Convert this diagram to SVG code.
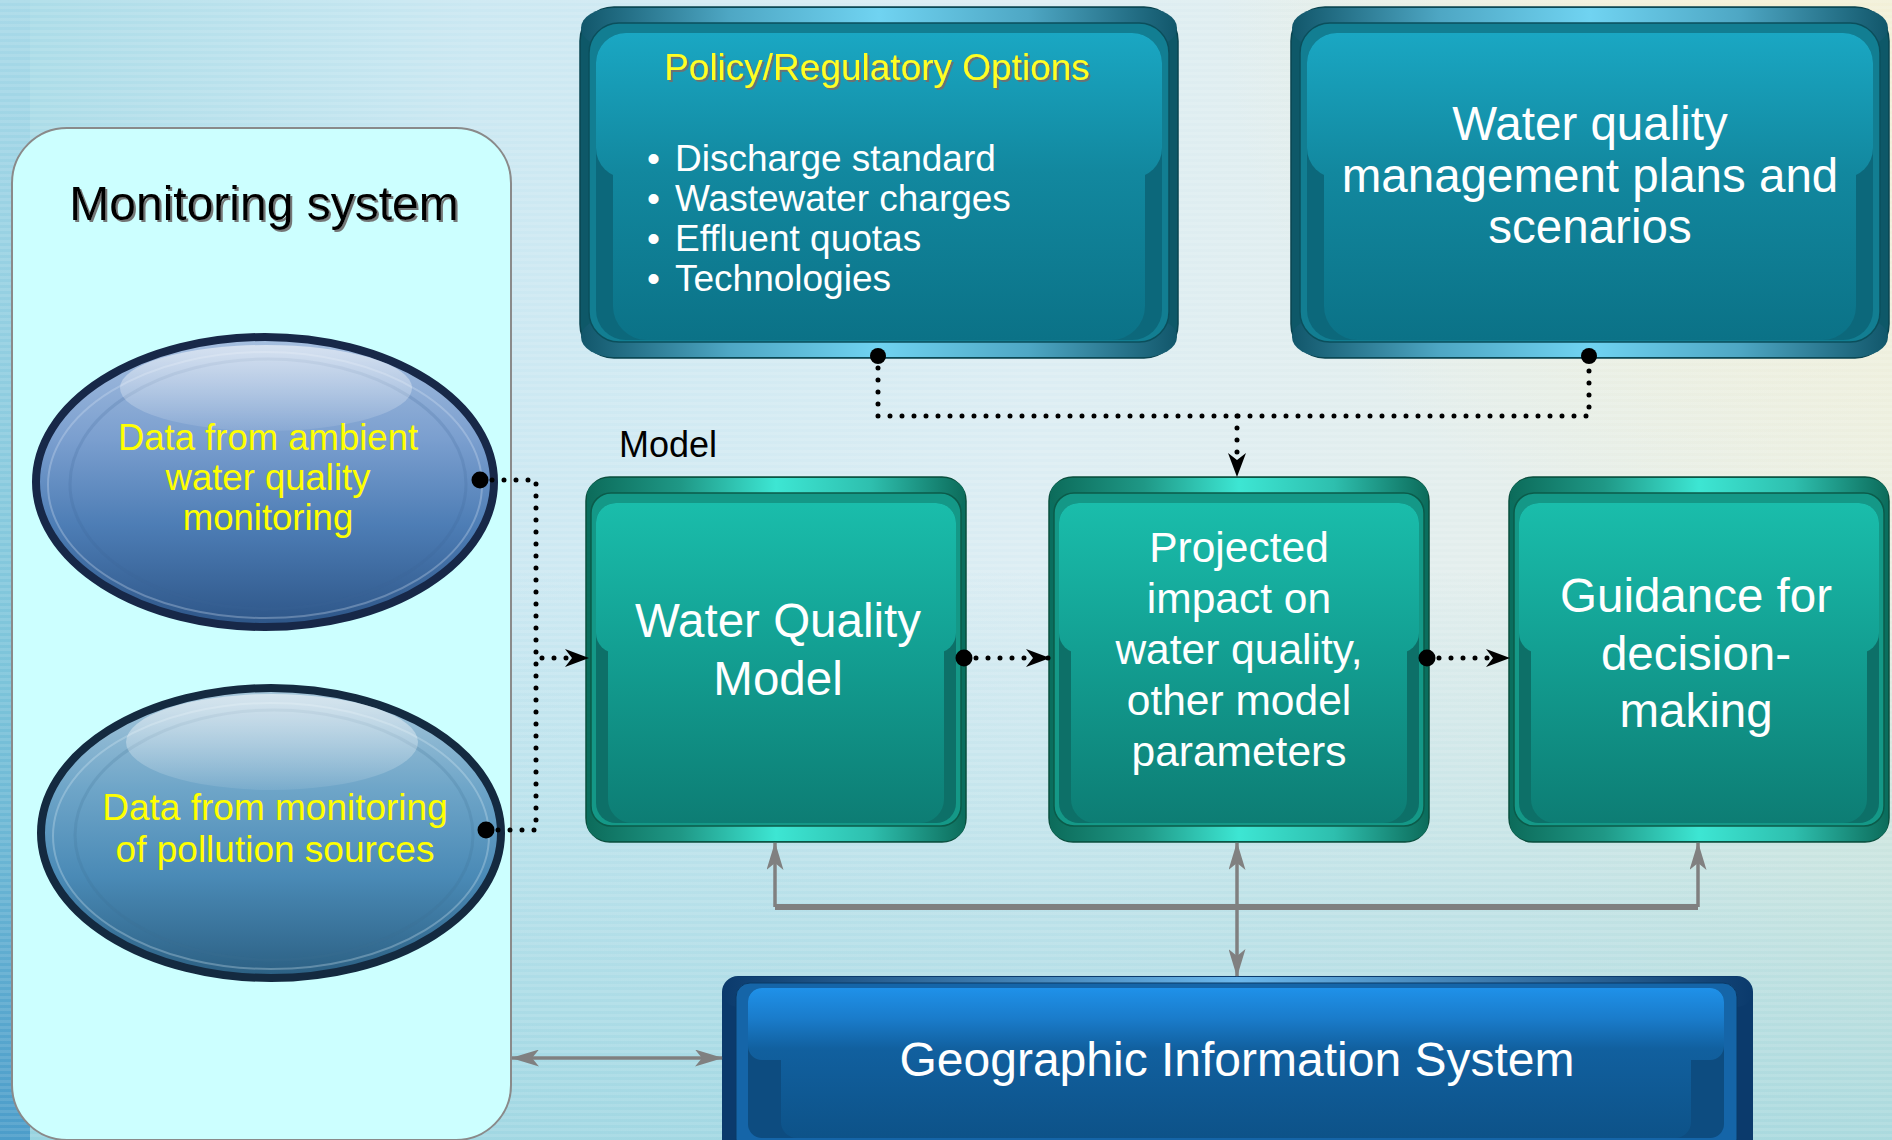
<svg xmlns="http://www.w3.org/2000/svg" xmlns:xlink="http://www.w3.org/1999/xlink" width="1892" height="1140" viewBox="0 0 1892 1140">
<style>
  text { font-family: "Liberation Sans", Arial, sans-serif; }
  .w { fill: #ffffff; text-anchor: middle; }
  .y { fill: #ffff00; text-anchor: middle; }
  .dot { fill: none; stroke: #000; stroke-width: 5; stroke-dasharray: 0 12; stroke-linecap: round; }
  .gray { fill: none; stroke: #808080; stroke-width: 3.5; }
</style>
<defs>
  <linearGradient id="bgH" x1="0" y1="0" x2="1" y2="0">
    <stop offset="0" stop-color="#a9dbe7"/>
    <stop offset="0.25" stop-color="#cbe8f2"/>
    <stop offset="0.55" stop-color="#dcedf3"/>
    <stop offset="0.8" stop-color="#e4eeec"/>
    <stop offset="1" stop-color="#ebefe2"/>
  </linearGradient>
  <linearGradient id="bgV" x1="0" y1="0" x2="0" y2="1">
    <stop offset="0.5" stop-color="#8fd3dc" stop-opacity="0"/>
    <stop offset="1" stop-color="#8fd0dc" stop-opacity="0.7"/>
  </linearGradient>
  <radialGradient id="bgTR" cx="1780" cy="0" r="560" gradientUnits="userSpaceOnUse">
    <stop offset="0" stop-color="#f4f0d6" stop-opacity="1"/>
    <stop offset="1" stop-color="#f4f0d6" stop-opacity="0"/>
  </radialGradient>
  <linearGradient id="bgL" x1="0" y1="0" x2="0" y2="1">
    <stop offset="0" stop-color="#a8d9e8"/>
    <stop offset="0.6" stop-color="#7cc4da"/>
    <stop offset="1" stop-color="#4c9dca"/>
  </linearGradient>
  <pattern id="stripes" width="10" height="6" patternUnits="userSpaceOnUse">
    <rect width="10" height="3" fill="#ffffff" opacity="0.1"/>
  </pattern>

  <filter id="shadow" x="-5%" y="-20%" width="110%" height="150%">
    <feDropShadow dx="2" dy="2" stdDeviation="0.6" flood-color="#707070" flood-opacity="0.95"/>
  </filter>

  <!-- teal box -->
  <linearGradient id="tealBand" x1="0" y1="0" x2="380" y2="0" gradientUnits="userSpaceOnUse">
    <stop offset="0" stop-color="#0c6b5a"/>
    <stop offset="0.25" stop-color="#1f9886"/>
    <stop offset="0.5" stop-color="#3de6d3"/>
    <stop offset="0.75" stop-color="#2ebfae"/>
    <stop offset="1" stop-color="#0c6b5a"/>
  </linearGradient>
  <linearGradient id="tealFace" x1="0" y1="26" x2="0" y2="346" gradientUnits="userSpaceOnUse">
    <stop offset="0" stop-color="#1abdab"/>
    <stop offset="0.45" stop-color="#13a093"/>
    <stop offset="1" stop-color="#0d7d74"/>
  </linearGradient>
  <g id="tealBox">
    <rect width="380" height="365" rx="24" fill="#0a6e5e" stroke="#0a4f3e" stroke-width="1.5"/>
    <rect x="1" y="1" width="378" height="34" rx="23" fill="url(#tealBand)"/>
    <rect x="1" y="330" width="378" height="34" rx="23" fill="url(#tealBand)"/>
    <rect x="5" y="16" width="370" height="333" rx="20" fill="#149887" stroke="#0b5b4a" stroke-width="1.5"/>
    <rect x="10" y="26" width="360" height="320" rx="20" fill="#0d7068"/>
    <rect x="10" y="26" width="360" height="150" rx="20" fill="url(#tealFace)"/>
    <rect x="22" y="100" width="336" height="246" rx="24" fill="url(#tealFace)"/>
  </g>

  <!-- blue-teal box -->
  <linearGradient id="blueBand" x1="0" y1="0" x2="598" y2="0" gradientUnits="userSpaceOnUse">
    <stop offset="0" stop-color="#11566a"/>
    <stop offset="0.25" stop-color="#4ea7c4"/>
    <stop offset="0.5" stop-color="#70d3f1"/>
    <stop offset="0.75" stop-color="#4ea7c4"/>
    <stop offset="1" stop-color="#11566a"/>
  </linearGradient>
  <linearGradient id="blueFace" x1="0" y1="26" x2="0" y2="333" gradientUnits="userSpaceOnUse">
    <stop offset="0" stop-color="#1aa7c3"/>
    <stop offset="0.45" stop-color="#12889f"/>
    <stop offset="1" stop-color="#0b7287"/>
  </linearGradient>
  <g id="blueBox">
    <rect width="598" height="351" rx="34" fill="#0e5868" stroke="#0a4450" stroke-width="1.5"/>
    <rect x="1" y="1" width="596" height="40" rx="33" fill="url(#blueBand)"/>
    <rect x="1" y="310" width="596" height="40" rx="33" fill="url(#blueBand)"/>
    <rect x="9" y="16" width="580" height="319" rx="30" fill="#127e92" stroke="#0b4f5c" stroke-width="1.5"/>
    <rect x="16" y="26" width="566" height="307" rx="30" fill="#0c687b"/>
    <rect x="16" y="26" width="566" height="145" rx="30" fill="url(#blueFace)"/>
    <rect x="33" y="100" width="532" height="233" rx="34" fill="url(#blueFace)"/>
  </g>

  <!-- GIS -->
  <linearGradient id="gisBand" x1="722" y1="0" x2="1753" y2="0" gradientUnits="userSpaceOnUse">
    <stop offset="0" stop-color="#0b3a6c"/>
    <stop offset="0.5" stop-color="#6cb8ec"/>
    <stop offset="1" stop-color="#0b3a6c"/>
  </linearGradient>
  <linearGradient id="gisFace" x1="0" y1="988" x2="0" y2="1140" gradientUnits="userSpaceOnUse">
    <stop offset="0" stop-color="#1f91e9"/>
    <stop offset="0.2" stop-color="#1a7ccb"/>
    <stop offset="0.4" stop-color="#11609f"/>
    <stop offset="1" stop-color="#0d5288"/>
  </linearGradient>

  <!-- ellipses -->
  <linearGradient id="ell1" x1="0" y1="0" x2="0" y2="1">
    <stop offset="0" stop-color="#a7c0e0"/>
    <stop offset="0.35" stop-color="#7b9fcf"/>
    <stop offset="0.65" stop-color="#4d7db5"/>
    <stop offset="1" stop-color="#2d5587"/>
  </linearGradient>
  <linearGradient id="ell2" x1="0" y1="0" x2="0" y2="1">
    <stop offset="0" stop-color="#a9c9dc"/>
    <stop offset="0.35" stop-color="#6ea5c8"/>
    <stop offset="0.65" stop-color="#4a8ab6"/>
    <stop offset="1" stop-color="#2b5f82"/>
  </linearGradient>
  <linearGradient id="hl" x1="0" y1="0" x2="0" y2="1">
    <stop offset="0" stop-color="#ffffff" stop-opacity="0.55"/>
    <stop offset="1" stop-color="#ffffff" stop-opacity="0.08"/>
  </linearGradient>

  <marker id="blk" viewBox="0 0 24 18" refX="23" refY="9" markerWidth="24" markerHeight="18" markerUnits="userSpaceOnUse" orient="auto">
    <path d="M0,0 L24,9 L0,18 L7,9 z" fill="#000"/>
  </marker>
  <marker id="gr" viewBox="0 0 28 17" refX="27" refY="8.5" markerWidth="28" markerHeight="17" markerUnits="userSpaceOnUse" orient="auto-start-reverse">
    <path d="M0,0 L28,8.5 L0,17 L7,8.5 z" fill="#808080"/>
  </marker>
</defs>

<!-- background -->
<rect width="1892" height="1140" fill="url(#bgH)"/>
<rect width="1892" height="1140" fill="url(#bgTR)"/>
<rect width="1892" height="1140" fill="url(#bgV)"/>
<rect width="30" height="1140" fill="url(#bgL)"/>
<rect width="1892" height="1140" fill="url(#stripes)"/>

<!-- Monitoring system -->
<g id="monitoring-system">
  <rect x="12" y="128" width="499" height="1012" rx="55" fill="#ccffff" stroke="#8a8a8a" stroke-width="2"/>
  <text x="264" y="220" font-size="48" fill="#000" text-anchor="middle" filter="url(#shadow)">Monitoring system</text>
</g>

<g id="ambient-monitoring">
  <ellipse cx="265" cy="482" rx="229" ry="145" fill="url(#ell1)" stroke="#172848" stroke-width="8"/>
  <ellipse cx="265" cy="485" rx="217" ry="133" fill="none" stroke="#d8e4f4" stroke-width="2" opacity="0.3"/>
  <ellipse cx="268" cy="484" rx="198" ry="125" fill="none" stroke="#3e6596" stroke-width="3" opacity="0.2"/>
  <ellipse cx="266" cy="388" rx="146" ry="43" fill="url(#hl)"/>
  <text class="y" font-size="36.5"><tspan x="268" y="450">Data from ambient</tspan><tspan x="268" y="490">water quality</tspan><tspan x="268" y="530">monitoring</tspan></text>
</g>

<g id="pollution-monitoring">
  <ellipse cx="271" cy="833" rx="230" ry="145" fill="url(#ell2)" stroke="#142a40" stroke-width="8"/>
  <ellipse cx="271" cy="836" rx="218" ry="133" fill="none" stroke="#d8eaf4" stroke-width="2" opacity="0.3"/>
  <ellipse cx="274" cy="835" rx="199" ry="125" fill="none" stroke="#3b6f92" stroke-width="3" opacity="0.2"/>
  <ellipse cx="272" cy="742" rx="146" ry="48" fill="url(#hl)"/>
  <text class="y" font-size="37"><tspan x="275" y="820">Data from monitoring</tspan><tspan x="275" y="862">of pollution sources</tspan></text>
</g>

<!-- Policy options -->
<g id="policy-options">
  <use xlink:href="#blueBox" x="580" y="7"/>
  <text x="877" y="80" font-size="37" fill="#ffff22" text-anchor="middle" filter="url(#shadow)">Policy/Regulatory Options</text>
  <g font-size="37" fill="#ffffff">
    <text><tspan x="647" y="171">•</tspan><tspan x="675" y="171">Discharge standard</tspan></text>
    <text><tspan x="647" y="211">•</tspan><tspan x="675" y="211">Wastewater charges</tspan></text>
    <text><tspan x="647" y="251">•</tspan><tspan x="675" y="251">Effluent quotas</tspan></text>
    <text><tspan x="647" y="291">•</tspan><tspan x="675" y="291">Technologies</tspan></text>
  </g>
</g>

<g id="management-plans">
  <use xlink:href="#blueBox" x="1291" y="7"/>
  <text class="w" font-size="47.5"><tspan x="1590" y="140">Water quality</tspan><tspan x="1590" y="192">management plans and</tspan><tspan x="1590" y="243">scenarios</tspan></text>
</g>

<g id="model-label">
  <text x="619" y="457" font-size="36" fill="#000">Model</text>
</g>

<g id="water-quality-model">
  <use xlink:href="#tealBox" x="586" y="477"/>
  <text class="w" font-size="47.5"><tspan x="778" y="637">Water Quality</tspan><tspan x="778" y="695">Model</tspan></text>
</g>

<g id="projected-impact">
  <use xlink:href="#tealBox" x="1049" y="477"/>
  <text class="w" font-size="42.5"><tspan x="1239" y="562">Projected</tspan><tspan x="1239" y="613">impact on</tspan><tspan x="1239" y="664">water quality,</tspan><tspan x="1239" y="715">other model</tspan><tspan x="1239" y="766">parameters</tspan></text>
</g>

<g id="guidance">
  <use xlink:href="#tealBox" x="1509" y="477"/>
  <text class="w" font-size="47.5"><tspan x="1696" y="612">Guidance for</tspan><tspan x="1696" y="670">decision-</tspan><tspan x="1696" y="727">making</tspan></text>
</g>

<g id="gis">
  <rect x="722" y="976" width="1031" height="180" rx="16" fill="#0b3a6c"/>
  <rect x="723" y="977" width="1029" height="30" rx="15" fill="url(#gisBand)"/>
  <rect x="736" y="983" width="1001" height="170" rx="14" fill="#1565a8" stroke="#0a3a66" stroke-width="1"/>
  <rect x="748" y="988" width="976" height="150" rx="14" fill="#0d4c80"/>
  <rect x="748" y="988" width="976" height="72" rx="14" fill="url(#gisFace)"/>
  <rect x="781" y="1030" width="910" height="108" rx="16" fill="url(#gisFace)"/>
  <text class="w" x="1237" y="1076" font-size="48">Geographic Information System</text>
</g>

<!-- connectors -->
<g id="connectors">
  <path class="dot" d="M878,356 V416 H1589 V356"/>
  <path class="dot" d="M1237,416 V476" marker-end="url(#blk)"/>
  <path class="dot" d="M480,480 H536 V658 H588" marker-end="url(#blk)"/>
  <path class="dot" d="M486,830 H536 V658"/>
  <path class="dot" d="M964,658 H1049" marker-end="url(#blk)"/>
  <path class="dot" d="M1427,658 H1509" marker-end="url(#blk)"/>
  <g fill="#000">
    <circle cx="878" cy="356" r="8"/>
    <circle cx="1589" cy="356" r="8"/>
    <circle cx="480" cy="480" r="8.5"/>
    <circle cx="486" cy="830" r="8.5"/>
    <circle cx="964" cy="658" r="8.5"/>
    <circle cx="1427" cy="658" r="8.5"/>
  </g>
  <path d="M775,907 H1698" fill="none" stroke="#808080" stroke-width="6"/>
  <path class="gray" d="M775,907 V843" marker-end="url(#gr)"/>
  <path class="gray" d="M1698,907 V843" marker-end="url(#gr)"/>
  <path class="gray" d="M1237,843 V976" marker-start="url(#gr)" marker-end="url(#gr)"/>
  <path class="gray" d="M512,1058 H722" marker-start="url(#gr)" marker-end="url(#gr)"/>
</g>
</svg>
